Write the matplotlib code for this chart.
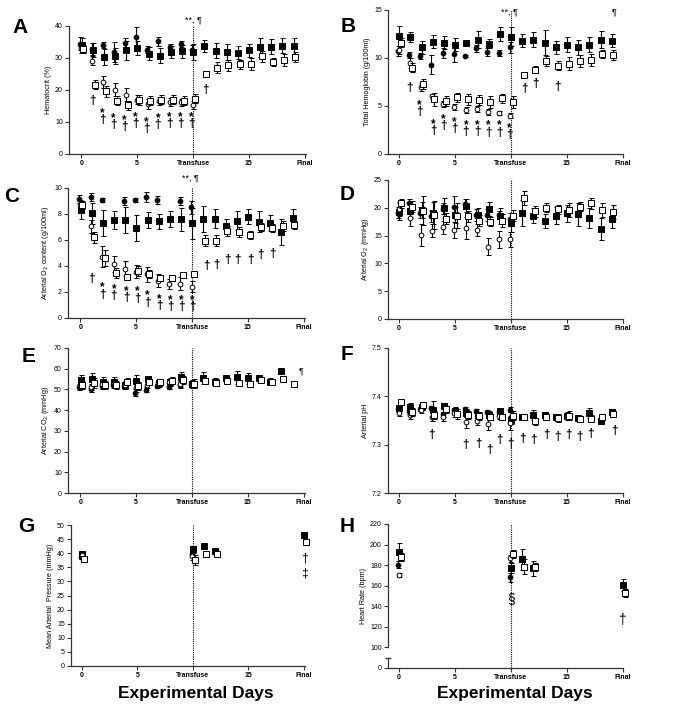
import numpy as np
import matplotlib
matplotlib.use("Agg")
import matplotlib.pyplot as plt

plt.rcParams['font.family'] = ['Liberation Sans', 'DejaVu Sans']

nan = np.nan
days_all = list(range(20))
days_pre = list(range(11))
days_gh = [0, 10, 11, 12, 20]
days_gh_pre = [0, 10]
xtick_pos = [0, 5, 10, 15, 20]
xtick_labels = ["0", "5", "Transfuse", "15", "Final"]

# ---------------- A: Hematocrit ----------------
A_fc = [34.5, 32.8, 34.0, 31.9, 34.7, 36.5, 32.6, 35.2, 33.3, 34.4, 32.6]
A_fc_err = [2.0, 2.0, 1.0, 3.0, 1.5, 3.3, 1.0, 1.3, 1.0, 1.0, 1.5]
A_fs = [34.0, 32.6, 30.3, 30.7, 32.4, 33.1, 31.3, 30.7, 31.8, 32.1, 31.9, 33.7, 32.3, 31.9, 31.6, 32.4, 33.4, 33.5, 33.9, 33.8]
A_fs_err = [2.2, 2.2, 2.5, 2.5, 3.0, 2.2, 2.0, 2.3, 1.8, 2.0, 2.5, 1.8, 2.3, 2.5, 2.0, 2.0, 3.0, 2.3, 2.3, 2.6]
A_oc = [33.0, 29.2, 22.5, 20.1, 18.5, 17.0, 15.6, 16.5, 16.2, 16.1, 15.4]
A_oc_err = [1.5, 1.3, 1.8, 2.0, 2.0, 1.5, 1.5, 1.3, 1.2, 1.2, 1.3]
A_os = [32.8, 21.7, 19.6, 16.7, 15.2, 16.8, 16.7, 17.0, 17.0, 16.7, 17.3, 25.1, 27.0, 27.7, 28.0, 28.2, 30.5, 28.8, 29.3, 30.3]
A_os_err = [1.2, 1.5, 1.8, 1.5, 1.3, 1.5, 1.5, 1.5, 1.3, 1.5, 1.5, 0.8, 1.7, 1.7, 1.5, 1.8, 1.8, 1.2, 1.8, 1.5]
A_pair_x = [1.85, 2.85, 3.85, 4.85, 5.85, 6.85, 7.85, 8.85, 9.85]      # "*" above "†"
A_pair_y = [10.5, 8.8, 8.3, 9.1, 7.6, 8.8, 9.1, 9.1, 9.1]
A_dag_x = [0.95, 11.15]
A_dag_y = [16.5, 20.0]
A_top = [(10.0, 41.8, "**, ¶")]

# ---------------- B: Total hemoglobin ----------------
B_fc = [10.7, 10.3, 10.2, 9.3, 10.5, 10.4, 10.2, 11.0, 10.6, 10.5, 11.1]
B_fc_err = [0.5, 0.3, 0.3, 1.0, 0.5, 0.8, 0.1, 0.4, 0.4, 0.3, 0.6]
B_fs = [12.3, 12.2, 11.1, 11.7, 11.6, 11.4, 11.6, 11.9, 11.5, 12.5, 12.2, 11.8, 11.9, 11.6, 11.1, 11.4, 11.1, 11.4, 11.9, 11.8]
B_fs_err = [1.0, 0.5, 0.7, 0.7, 0.7, 0.7, 0.3, 0.9, 0.5, 0.7, 1.0, 0.7, 0.8, 1.3, 0.7, 0.8, 0.8, 0.8, 0.9, 0.7]
B_oc = [10.8, 9.5, 7.0, 6.0, 5.2, 4.9, 4.6, 4.65, 4.4, 4.25, 4.0]
B_oc_err = [0.4, 0.5, 0.4, 0.3, 0.3, 0.3, 0.3, 0.3, 0.3, 0.2, 0.3]
B_os = [11.6, 9.0, 7.3, 5.7, 5.5, 5.9, 5.7, 5.6, 5.4, 5.8, 5.4, 8.2, 8.8, 9.7, 9.2, 9.4, 9.7, 9.8, 10.4, 10.3]
B_os_err = [0.5, 0.5, 0.5, 0.7, 0.5, 0.5, 0.6, 0.5, 0.6, 0.5, 0.6, 0.1, 0.4, 0.5, 0.5, 0.7, 0.6, 0.6, 0.4, 0.5]
B_pair_x = [1.85, 3.1, 4.0, 4.93, 5.97, 7.0, 7.97, 8.96, 9.9]
B_pair_y = [4.33, 2.36, 2.87, 2.53, 2.25, 2.25, 2.18, 2.18, 1.9]
B_dag_x = [0.95, 11.2, 12.2, 14.2]
B_dag_y = [6.86, 6.75, 7.27, 7.03]
B_top = [(9.9, 14.75, "**, ¶"), (19.2, 14.75, "¶")]

# ---------------- C: Arterial O2 content ----------------
C_fc = [9.18, 9.3, 9.05, nan, 9.03, 9.1, 9.3, 9.1, nan, 8.97, 8.53]
C_fc_err = [0.3, 0.3, 0.15, 0.0, 0.3, 0.15, 0.4, 0.3, 0.0, 0.3, 0.5]
C_fs = [8.33, 8.05, 7.3, 7.56, 7.57, 6.93, 7.53, 7.43, 7.6, 7.6, 7.28, 7.6, 7.65, 7.1, 7.5, 7.8, 7.4, 7.3, 6.6, 7.7]
C_fs_err = [0.7, 0.8, 1.0, 0.7, 1.0, 1.0, 0.6, 0.6, 0.6, 0.9, 1.2, 1.0, 0.7, 0.5, 0.7, 0.6, 0.8, 0.6, 1.0, 0.7]
C_oc = [8.66, 7.07, 4.73, 4.15, 3.8, 3.55, 3.35, 2.85, 2.62, 2.62, 2.42]
C_oc_err = [0.4, 0.5, 0.8, 0.6, 0.6, 0.5, 0.6, 0.5, 0.4, 0.5, 0.4]
C_os = [8.7, 6.2, 4.6, 3.45, 3.15, 3.6, 3.4, 3.1, 3.05, 3.3, 3.35, 5.95, 5.95, 6.7, 6.6, 6.4, 7.0, 6.9, 7.1, 7.15]
C_os_err = [0.3, 0.4, 0.6, 0.4, 0.1, 0.4, 0.3, 0.2, 0.2, 0.2, 0.1, 0.4, 0.4, 0.4, 0.4, 0.3, 0.3, 0.3, 0.4, 0.3]
C_pair_x = [1.94, 2.99, 4.09, 5.07, 6.03, 7.07, 8.06, 9.04, 10.0]
C_pair_y = [1.77, 1.65, 1.5, 1.45, 1.15, 0.87, 0.82, 0.82, 0.82]
C_dag_x = [0.98, 11.3, 12.2, 13.2, 14.05, 15.2, 16.1, 17.2]
C_dag_y = [3.0, 3.97, 4.05, 4.44, 4.44, 4.44, 4.83, 4.95]
C_top = [(9.85, 10.8, "**, ¶")]

# ---------------- D: Arterial O2 ----------------
D_fc = [19.1, 20.8, 19.1, 18.5, 19.8, 20.2, 20.7, 18.7, 18.7, 18.7, 18.0]
D_fc_err = [1.0, 0.8, 1.0, 1.0, 1.0, 2.0, 0.8, 1.0, 1.0, 0.8, 1.0]
D_fs = [19.3, 19.4, 19.6, 19.1, 19.9, 18.7, 20.4, 18.7, 19.8, 18.5, 17.3, 19.1, 18.6, 17.6, 18.6, 19.0, 18.8, 18.2, 16.2, 18.0]
D_fs_err = [1.5, 1.2, 1.5, 2.0, 1.8, 1.5, 1.2, 1.3, 1.2, 1.5, 1.7, 2.3, 1.3, 1.2, 1.5, 1.5, 2.0, 1.8, 2.0, 1.7]
D_oc = [19.8, 18.1, 15.1, 15.9, 16.5, 16.0, 16.3, 16.0, 13.0, 14.3, 14.3]
D_oc_err = [1.2, 1.3, 2.0, 1.2, 1.2, 1.5, 2.0, 1.0, 1.5, 1.6, 1.4]
D_os = [20.8, 20.2, 19.5, 18.7, 18.0, 18.6, 18.5, 17.7, 17.5, 17.7, 18.6, 21.8, 19.4, 20.0, 19.7, 19.6, 20.2, 20.8, 19.6, 19.2]
D_os_err = [0.8, 1.0, 2.6, 2.5, 1.0, 2.2, 1.0, 1.0, 0.8, 1.2, 1.0, 1.3, 1.0, 0.8, 0.8, 1.3, 0.8, 1.0, 1.3, 1.3]

# ---------------- E: Arterial CO2 ----------------
E_fc = [51.0, 50.2, 51.5, 52.0, 51.5, 48.5, 49.8, 51.8, 51.3, 52.3, 52.5]
E_fc_err = [1.5, 1.5, 1.5, 1.5, 1.5, 1.5, 1.2, 1.0, 1.0, 1.5, 1.5]
E_fs = [54.5, 55.0, 53.5, 53.5, 52.0, 54.3, 55.0, 53.0, 53.5, 55.8, 52.5, 55.5, 53.5, 55.5, 55.8, 55.3, 55.5, 53.8, 58.8, nan]
E_fs_err = [2.5, 3.0, 2.5, 2.5, 2.0, 2.5, 1.5, 2.0, 2.0, 2.5, 2.0, 3.0, 2.0, 1.5, 3.0, 2.8, 1.5, 1.5, 1.0, 0.0]
E_oc = [51.5, 51.0, 52.5, 53.0, 52.0, 50.5, 52.0, 53.0, 53.5, 52.5, 52.0]
E_oc_err = [1.5, 1.5, 1.5, 1.5, 1.5, 1.5, 1.5, 1.5, 1.5, 1.5, 1.5]
E_os = [52.0, 53.0, 52.3, 52.3, 53.8, 51.5, 53.5, 53.5, 54.3, 54.5, 52.8, 54.0, 53.3, 54.0, 53.0, 52.8, 54.5, 53.8, 55.0, 52.5]
E_os_err = [2.0, 2.5, 2.0, 2.0, 1.5, 2.0, 1.5, 1.5, 1.5, 2.0, 2.0, 1.5, 1.5, 1.5, 1.5, 1.5, 1.0, 1.0, 0.5, 0.5]
E_top = [(19.8, 58.8, "¶")]

# ---------------- F: Arterial pH ----------------
F_fc = [7.373, 7.369, 7.374, 7.376, 7.363, 7.372, 7.373, 7.370, 7.368, 7.368, 7.372]
F_fc_err = [0.005, 0.005, 0.004, 0.005, 0.005, 0.004, 0.004, 0.004, 0.004, 0.004, 0.005]
F_fs = [7.375, 7.378, 7.378, 7.372, 7.381, 7.370, 7.365, 7.362, 7.362, 7.370, 7.352, 7.357, 7.362, 7.362, 7.358, 7.359, 7.356, 7.366, 7.349, 7.367]
F_fs_err = [0.006, 0.008, 0.006, 0.018, 0.005, 0.008, 0.008, 0.006, 0.008, 0.006, 0.010, 0.004, 0.010, 0.005, 0.006, 0.008, 0.006, 0.010, 0.003, 0.003]
F_oc = [7.365, 7.362, 7.371, 7.358, 7.358, 7.366, 7.346, 7.350, 7.343, 7.360, 7.345]
F_oc_err = [0.006, 0.008, 0.005, 0.008, 0.008, 0.008, 0.012, 0.010, 0.012, 0.006, 0.015]
F_os = [7.389, 7.368, 7.383, 7.362, 7.373, 7.364, 7.362, 7.360, 7.357, 7.358, 7.360, 7.358, 7.348, 7.357, 7.355, 7.360, 7.353, 7.354, 7.357, 7.364]
F_os_err = [0.004, 0.008, 0.004, 0.008, 0.008, 0.010, 0.008, 0.008, 0.007, 0.006, 0.010, 0.004, 0.008, 0.006, 0.008, 0.010, 0.007, 0.008, 0.004, 0.004]
F_dag_x = [2.9, 5.97, 7.07, 8.06, 9.0, 9.97, 11.0, 12.06, 13.2, 14.15, 15.13, 16.1, 17.1, 19.25]
F_dag_y = [7.321, 7.300, 7.302, 7.290, 7.310, 7.302, 7.312, 7.310, 7.321, 7.315, 7.319, 7.315, 7.322, 7.329]

# ---------------- G: Mean arterial pressure ----------------
G_fc = [38.6, 39.7]
G_fc_err = [0.8, 0.8]
G_fs = [39.6, 41.4, 42.5, 40.8, 46.5]
G_fs_err = [1.2, 1.3, 0.5, 0.5, 0.8]
G_oc = [39.4, 39.0]
G_oc_err = [1.5, 1.5]
G_os = [37.8, 37.6, 39.7, 39.7, 44.1]
G_os_err = [1.0, 1.8, 0.8, 0.8, 1.0]
G_top = [(20.1, 38.2, "†"), (20.1, 32.9, "‡")]

# ---------------- H: Heart rate ----------------
H_fc = [180.6, 168.0]
H_fc_err = [3.0, 4.0]
H_fs = [192.6, 177.5, 185.7, 176.8, 160.5]
H_fs_err = [8.5, 5.0, 10.0, 7.0, 6.0]
H_oc = [170.0, 186.5]
H_oc_err = [2.0, 3.0]
H_os = [187.7, 191.0, 178.5, 178.5, 152.6]
H_os_err = [4.0, 4.0, 7.0, 4.0, 4.0]
H_top = [(10.0, 146.8, "§"), (19.95, 127.0, "†")]

# ---------------- layout (pixel boxes: left, right, top, bottom) ----------------
W, Hpx = 685, 711
fig = plt.figure(figsize=(W / 100, Hpx / 100), dpi=100)


def make_ax(l, r, t, b):
    return fig.add_axes([l / W, 1 - b / Hpx, (r - l) / W, (b - t) / Hpx])


off = {'fc': -0.1, 'fs': 0.02, 'oc': -0.04, 'os': 0.17}
ek = dict(elinewidth=0.8, capsize=1.8, capthick=0.8, ecolor='black', linestyle='none')


def unclip(cont):
    data_line, caplines, barcols = cont.lines
    if data_line is not None:
        data_line.set_clip_on(False)
    for c in caplines:
        c.set_clip_on(False)
    for c in barcols:
        c.set_clip_on(False)


def plot_series(ax, xs_pre, xs_all, fc, fce, fs, fse, oc, oce, os_, ose):
    conts = []
    conts.append(ax.errorbar(np.array(xs_all) + off['fs'], fs, yerr=fse, marker='s', ms=3.7,
                             mfc='black', mec='black', mew=0.7, zorder=3, **ek))
    conts.append(ax.errorbar(np.array(xs_pre) + off['fc'], fc, yerr=fce, marker='o', ms=3.4,
                             mfc='black', mec='black', mew=0.7, zorder=3, **ek))
    conts.append(ax.errorbar(np.array(xs_pre) + off['oc'], oc, yerr=oce, marker='o', ms=3.4,
                             mfc='white', mec='black', mew=0.7, zorder=4, **ek))
    conts.append(ax.errorbar(np.array(xs_all) + off['os'], os_, yerr=ose, marker='s', ms=3.9,
                             mfc='white', mec='black', mew=0.7, zorder=5, **ek))
    for c in conts:
        unclip(c)


def style(ax, xlim, ylim, yticks, ylabel, ytlabels=None):
    ax.set_xlim(*xlim)
    ax.set_ylim(*ylim)
    for s in ['top', 'right']:
        ax.spines[s].set_visible(False)
    for s in ['left', 'bottom']:
        ax.spines[s].set_linewidth(0.9)
        ax.spines[s].set_color('#333333')
    ax.set_xticks(xtick_pos)
    ax.set_xticklabels(xtick_labels, fontsize=5, fontweight='bold')
    ax.set_yticks(yticks)
    if ytlabels is not None:
        ax.set_yticklabels(ytlabels)
    ax.tick_params(axis='both', direction='out', length=3, width=0.8, labelsize=5,
                   pad=1.5, color='#333333')
    ax.set_ylabel(ylabel, fontsize=5.2, labelpad=2)
    ax.axvline(10, color='black', lw=0.8, ls=(0, (1, 1)), zorder=1)


DAG_FS = 8.5


def annotate(ax, dx, dy, px=(), py=()):
    # single daggers, centred on (x, y)
    for x, y in zip(dx, dy):
        ax.text(x, y, "†", fontsize=DAG_FS, fontweight='bold', ha='center', va='center',
                clip_on=False, zorder=6)
    # star stacked above dagger; dagger centre at (x, y)
    for x, y in zip(px, py):
        ax.annotate("*\n†", xy=(x, y), xytext=(0, -4.0), textcoords='offset points',
                    fontsize=DAG_FS, fontweight='bold', ha='center', va='bottom',
                    linespacing=0.45, multialignment='center', annotation_clip=False,
                    zorder=6)


def top_text(ax, items, size=6.5):
    for x, y, s in items:
        ax.text(x, y, s, fontsize=size, ha='center', va='center', clip_on=False, zorder=6)


XL_L = (-1.12, 20.13)
XL_R = (-0.98, 20.02)

# A
ax = make_ax(69, 306, 26, 154)
plot_series(ax, days_pre, days_all, A_fc, A_fc_err, A_fs, A_fs_err, A_oc, A_oc_err, A_os, A_os_err)
style(ax, XL_L, (0, 40), [0, 10, 20, 30, 40], "Hematocrit (%)")
annotate(ax, A_dag_x, A_dag_y, A_pair_x, A_pair_y)
top_text(ax, A_top)

# B
ax = make_ax(388, 623, 10, 154)
plot_series(ax, days_pre, days_all, B_fc, B_fc_err, B_fs, B_fs_err, B_oc, B_oc_err, B_os, B_os_err)
style(ax, XL_R, (0, 15), [0, 5, 10, 15], "Total Hemoglobin (g/100ml)")
annotate(ax, B_dag_x, B_dag_y, B_pair_x, B_pair_y)
top_text(ax, B_top)

# C
ax = make_ax(68, 305, 188, 318)
plot_series(ax, days_pre, days_all, C_fc, C_fc_err, C_fs, C_fs_err, C_oc, C_oc_err, C_os, C_os_err)
style(ax, XL_L, (0, 10), [0, 2, 4, 6, 8, 10], "Arterial O$_2$ content (g/100ml)")
annotate(ax, C_dag_x, C_dag_y, C_pair_x, C_pair_y)
top_text(ax, C_top)

# D
ax = make_ax(388, 623, 180, 319)
plot_series(ax, days_pre, days_all, D_fc, D_fc_err, D_fs, D_fs_err, D_oc, D_oc_err, D_os, D_os_err)
style(ax, XL_R, (0, 25), [0, 5, 10, 15, 20, 25], "Arterial O$_2$ (mmHg)")

# E
ax = make_ax(68, 305, 348, 493)
plot_series(ax, days_pre, days_all, E_fc, E_fc_err, E_fs, E_fs_err, E_oc, E_oc_err, E_os, E_os_err)
style(ax, XL_L, (0, 70), list(range(0, 71, 10)), "Arterial CO$_2$ (mmHg)")
top_text(ax, E_top)

# F
ax = make_ax(388, 623, 348, 493)
plot_series(ax, days_pre, days_all, F_fc, F_fc_err, F_fs, F_fs_err, F_oc, F_oc_err, F_os, F_os_err)
style(ax, XL_R, (7.2, 7.5), [7.2, 7.3, 7.4, 7.5], "Arterial pH")
annotate(ax, F_dag_x, F_dag_y)

# G
ax = make_ax(71, 305, 525, 666)
plot_series(ax, days_gh_pre, days_gh, G_fc, G_fc_err, G_fs, G_fs_err, G_oc, G_oc_err, G_os, G_os_err)
style(ax, (-0.99, 20.1), (0, 50), list(range(0, 51, 5)), "Mean Arterial  Pressure (mmHg)")
top_text(ax, G_top, size=9)

# H (broken axis: "0" drawn at 80)
ax = make_ax(388, 623, 524, 668)
plot_series(ax, days_gh_pre, days_gh, H_fc, H_fc_err, H_fs, H_fs_err, H_oc, H_oc_err, H_os, H_os_err)
style(ax, XL_R, (80, 220), [80] + list(range(100, 221, 20)), "Heart Rate (bpm)",
      ytlabels=["0"] + [str(v) for v in range(100, 221, 20)])
ax.spines['left'].set_bounds(100, 220)
ax.plot([XL_R[0], XL_R[0]], [80, 89.5], color='#333333', lw=0.9, clip_on=False, zorder=2)
ax.plot([XL_R[0]], [89.5], marker='_', ms=5, mew=0.9, color='#333333', clip_on=False)
top_text(ax, H_top, size=10)

# panel letters
letters = [("A", 12, 33), ("B", 341, 32), ("C", 4, 202), ("D", 340, 200),
           ("E", 22, 362), ("F", 341, 360), ("G", 18, 532), ("H", 340, 532)]
for s, x, y in letters:
    fig.text(x / W, 1 - y / Hpx, s, fontsize=15, fontweight='bold', ha='left', va='baseline')

fig.text(196 / W, 1 - 698 / Hpx, "Experimental Days", fontsize=12.5, fontweight='bold',
         ha='center', va='baseline')
fig.text(515 / W, 1 - 698 / Hpx, "Experimental Days", fontsize=12.5, fontweight='bold',
         ha='center', va='baseline')

fig.savefig("out.png", dpi=100)
